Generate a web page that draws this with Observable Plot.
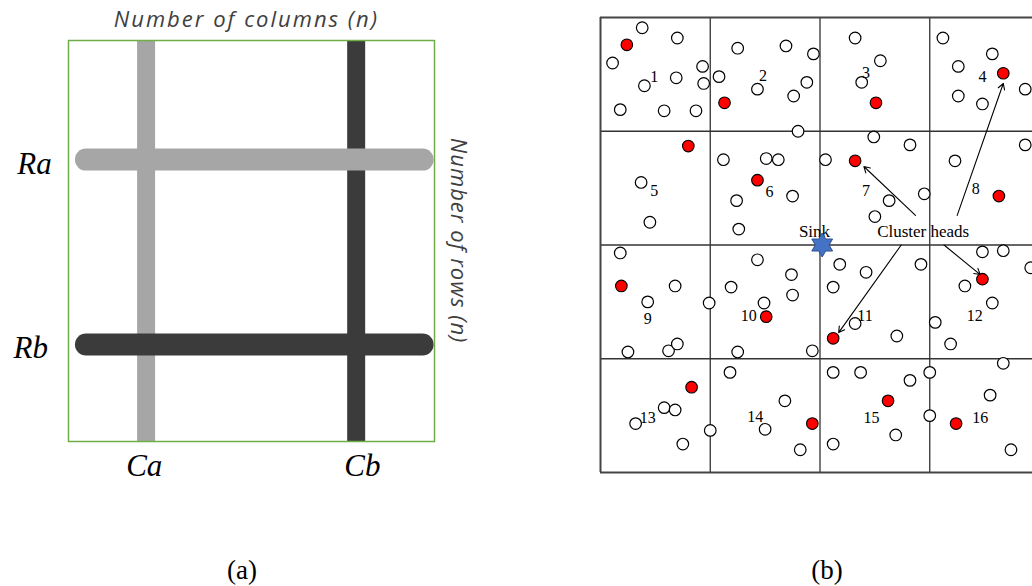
<!DOCTYPE html>
<html>
<head>
<meta charset="utf-8">
<script src="https://cdn.jsdelivr.net/npm/d3@7"></script>
<script src="https://cdn.jsdelivr.net/npm/@observablehq/plot@0.6"></script>
<style>
  html, body { margin: 0; padding: 0; background: #fff; }
  #wrap { position: relative; width: 1032px; height: 586px; overflow: hidden; background: #fff; }
  #pa { position: absolute; left: 0; top: 0; width: 500px; height: 586px; }
  #pb { position: absolute; left: 560px; top: 0; width: 500px; height: 500px; }
  #wrap svg { max-width: none !important; }
  .cap { position: absolute; top: 557px; font-family: "Liberation Serif", "Times New Roman", serif; font-size: 27px; line-height: 27px; color: #000; transform: translateX(-50%); }
</style>
</head>
<body>
<div id="wrap">
  <div id="pa"></div>
  <div id="pb"></div>
  <div class="cap" style="left:242px">(a)</div>
  <div class="cap" style="left:827px">(b)</div>
</div>
<script>
// ---------- Panel (a) data ----------
const colNames = ["Ca", "Cb"];
const colPos = [0.212, 0.786];
const colLabelPos = [0.207, 0.803];
const colColors = ["#a6a6a6", "#3b3b3b"];
const rowNames = ["Ra", "Rb"];
const rowPos = [0.703, 0.242];
const rowLabelPos = [-0.093, -0.103];
const rowColors = ["#a6a6a6", "#3b3b3b"];
const axisTitles = ["Number of columns (n)", "Number of rows (n)"];

// ---------- Panel (b) data (cell units: 4 x 4 grid) ----------
const gridLines = [0, 1, 2, 3, 4];
const sensors = [
  [0.38,0.09],[0.70,0.18],[0.11,0.40],[0.93,0.43],[0.40,0.60],[0.69,0.53],[0.94,0.58],[0.18,0.81],[0.58,0.82],[0.87,0.82],
  [1.25,0.27],[1.69,0.25],[1.94,0.32],[1.08,0.52],[1.43,0.63],[1.88,0.57],[1.76,0.69],[1.80,1.00],
  [2.32,0.18],[2.55,0.38],[2.38,0.57],
  [3.12,0.18],[3.57,0.32],[3.26,0.43],[3.87,0.63],[3.26,0.69],[3.48,0.76],
  [0.37,1.45],[0.45,1.80],
  [1.12,1.25],[1.51,1.24],[1.62,1.25],[1.75,1.57],[1.24,1.61],[1.26,1.86],
  [2.49,1.05],[2.82,1.12],[2.05,1.25],[2.63,1.61],[2.95,1.55],[2.50,1.75],
  [3.87,1.12],[3.23,1.26],
  [0.18,2.07],[0.68,2.36],[0.43,2.50],[0.99,2.51],[0.25,2.94],[0.62,2.93],[0.70,2.87],
  [1.43,2.13],[1.74,2.26],[1.19,2.37],[1.75,2.44],[1.49,2.51],[1.25,2.94],[1.93,2.93],
  [2.18,2.17],[2.42,2.24],[2.92,2.17],[2.12,2.37],[2.32,2.69],[2.70,2.80],
  [3.48,2.06],[3.67,2.05],[3.92,2.20],[3.32,2.36],[3.57,2.51],[3.05,2.68],[3.19,2.87],
  [0.58,3.43],[0.68,3.45],[0.32,3.57],[0.75,3.75],[1.00,3.63],
  [1.18,3.12],[1.68,3.37],[1.50,3.62],[1.82,3.80],
  [2.12,3.12],[2.37,3.12],[2.82,3.19],[3.00,3.12],[3.00,3.50],[2.69,3.67],[2.12,3.75],
  [3.67,3.04],[3.55,3.32],[3.74,3.80]
];
const clusterHeads = [
  [0.24,0.24],[1.13,0.75],[2.51,0.75],[3.67,0.49],
  [0.80,1.13],[1.43,1.43],[2.32,1.26],[3.63,1.57],
  [0.19,2.36],[1.51,2.63],[2.12,2.82],[3.48,2.30],
  [0.83,3.25],[1.93,3.57],[2.62,3.37],[3.24,3.57]
];
const cellLabels = ["1","2","3","4","5","6","7","8","9","10","11","12","13","14","15","16"];
const cellLabelPos = [
  [0.49,0.52],[1.48,0.51],[2.42,0.49],[3.48,0.52],
  [0.49,1.52],[1.54,1.53],[2.42,1.52],[3.42,1.51],
  [0.43,2.65],[1.35,2.62],[2.41,2.62],[3.41,2.62],
  [0.43,3.52],[1.41,3.51],[2.47,3.52],[3.46,3.52]
];
const sink = [[2.02, 2.00]];
const annotations = [
  {text: "Sink", x: 1.95, y: 1.88},
  {text: "Cluster heads", x: 2.94, y: 1.88}
];
const arrows = [
  {x1: 2.87, y1: 1.74, x2: 2.40, y2: 1.31},
  {x1: 3.25, y1: 1.74, x2: 3.67, y2: 0.58},
  {x1: 3.13, y1: 2.00, x2: 3.46, y2: 2.26},
  {x1: 2.74, y1: 2.00, x2: 2.17, y2: 2.77}
];

// ---------- Panel (a) ----------
const cols = colNames.map((n, i) => ({name: n, x: colPos[i], lx: colLabelPos[i], c: colColors[i]}));
const rows = rowNames.map((n, i) => ({name: n, y: rowPos[i], lx: rowLabelPos[i], c: rowColors[i]}));

const plotA = Plot.plot({
  width: 500, height: 586,
  marginLeft: 68, marginRight: 66, marginTop: 40, marginBottom: 145,
  x: {domain: [0, 1], axis: null},
  y: {domain: [0, 1], axis: null},
  color: {type: "identity"},
  style: {background: "transparent", overflow: "visible"},
  marks: [
    Plot.ruleX(cols, {x: "x", y1: 0, y2: 1, stroke: "c", strokeWidth: 18}),
    Plot.ruleY(rows, {y: "y", x1: 0.049, x2: 0.969, stroke: "c", strokeWidth: 22, strokeLinecap: "round"}),
    Plot.frame({stroke: "#70ad47", strokeWidth: 1.5}),
    Plot.text(rows, {x: "lx", y: "y", text: "name", dy: 4, fontFamily: "Liberation Serif", fontStyle: "italic", fontSize: 31, fill: "#000"}),
    Plot.text(cols, {x: "lx", y: -0.062, text: "name", fontFamily: "Liberation Serif", fontStyle: "italic", fontSize: 31, fill: "#000"}),
    Plot.text([axisTitles[0]], {x: 0.486, y: 1.05, text: d => d, fontFamily: "Open Sans", fontStyle: "italic", fontSize: 22, fill: "#404040"}),
    Plot.text([axisTitles[1]], {x: 1.063, y: 0.501, text: d => d, rotate: 90, fontFamily: "Open Sans", fontStyle: "italic", fontSize: 22, fill: "#404040"})
  ]
});
document.getElementById("pa").appendChild(plotA);
d3.select(plotA).selectAll("text")
  .filter(function() { return this.textContent === axisTitles[0]; })
  .attr("letter-spacing", "2px");
d3.select(plotA).selectAll("text")
  .filter(function() { return this.textContent === axisTitles[1]; })
  .attr("letter-spacing", "1px");

// ---------- Panel (b) ----------
const hexagram = {
  draw(ctx, size) {
    const R = Math.sqrt(size / Math.PI);
    const r = R / Math.sqrt(3);
    for (let i = 0; i < 12; i++) {
      const a = -Math.PI / 2 + i * Math.PI / 6;
      const rr = i % 2 === 0 ? R : r;
      const px = rr * Math.cos(a), py = rr * Math.sin(a);
      if (i === 0) ctx.moveTo(px, py); else ctx.lineTo(px, py);
    }
    ctx.closePath();
  }
};

const inner = gridLines.filter(v => v > 0 && v < 4);
const outer = gridLines.filter(v => v === 0 || v === 4);

const plotB = Plot.plot({
  width: 500, height: 500,
  marginLeft: 40, marginRight: 21, marginTop: 17, marginBottom: 28,
  x: {domain: [0, 4], axis: null},
  y: {domain: [0, 4], reverse: true, axis: null},
  style: {background: "transparent", overflow: "visible"},
  marks: [
    Plot.ruleX(inner, {x: d => d, y1: 0, y2: 4, stroke: "#333", strokeWidth: 1.3}),
    Plot.ruleY(inner, {y: d => d, x1: 0, x2: 4, stroke: "#333", strokeWidth: 1.3}),
    Plot.ruleX(outer, {x: d => d, y1: 0, y2: 4, stroke: "#444", strokeWidth: 2}),
    Plot.ruleY(outer, {y: d => d, x1: 0, x2: 4, stroke: "#444", strokeWidth: 2}),
    Plot.arrow(arrows, {x1: "x1", y1: "y1", x2: "x2", y2: "y2", stroke: "#000", strokeWidth: 1.1, headLength: 9, inset: 0}),
    Plot.dot(sensors, {x: d => d[0], y: d => d[1], r: 5.8, fill: "#fff", stroke: "#000", strokeWidth: 1.2}),
    Plot.dot(clusterHeads, {x: d => d[0], y: d => d[1], r: 5.8, fill: "#ff0000", stroke: "#000", strokeWidth: 1.1}),
    Plot.text(cellLabels, {x: (d, i) => cellLabelPos[i][0], y: (d, i) => cellLabelPos[i][1], text: d => d, fontFamily: "Liberation Serif", fontSize: 16, fill: "#000"}),
    Plot.text(annotations, {x: "x", y: "y", text: "text", fontFamily: "Liberation Serif", fontSize: 17, fill: "#000"}),
    Plot.dot(sink, {x: d => d[0], y: d => d[1], r: 12, symbol: hexagram, fill: "#4472c4", stroke: "#2f528f", strokeWidth: 1})
  ]
});
document.getElementById("pb").appendChild(plotB);
</script>
</body>
</html>
